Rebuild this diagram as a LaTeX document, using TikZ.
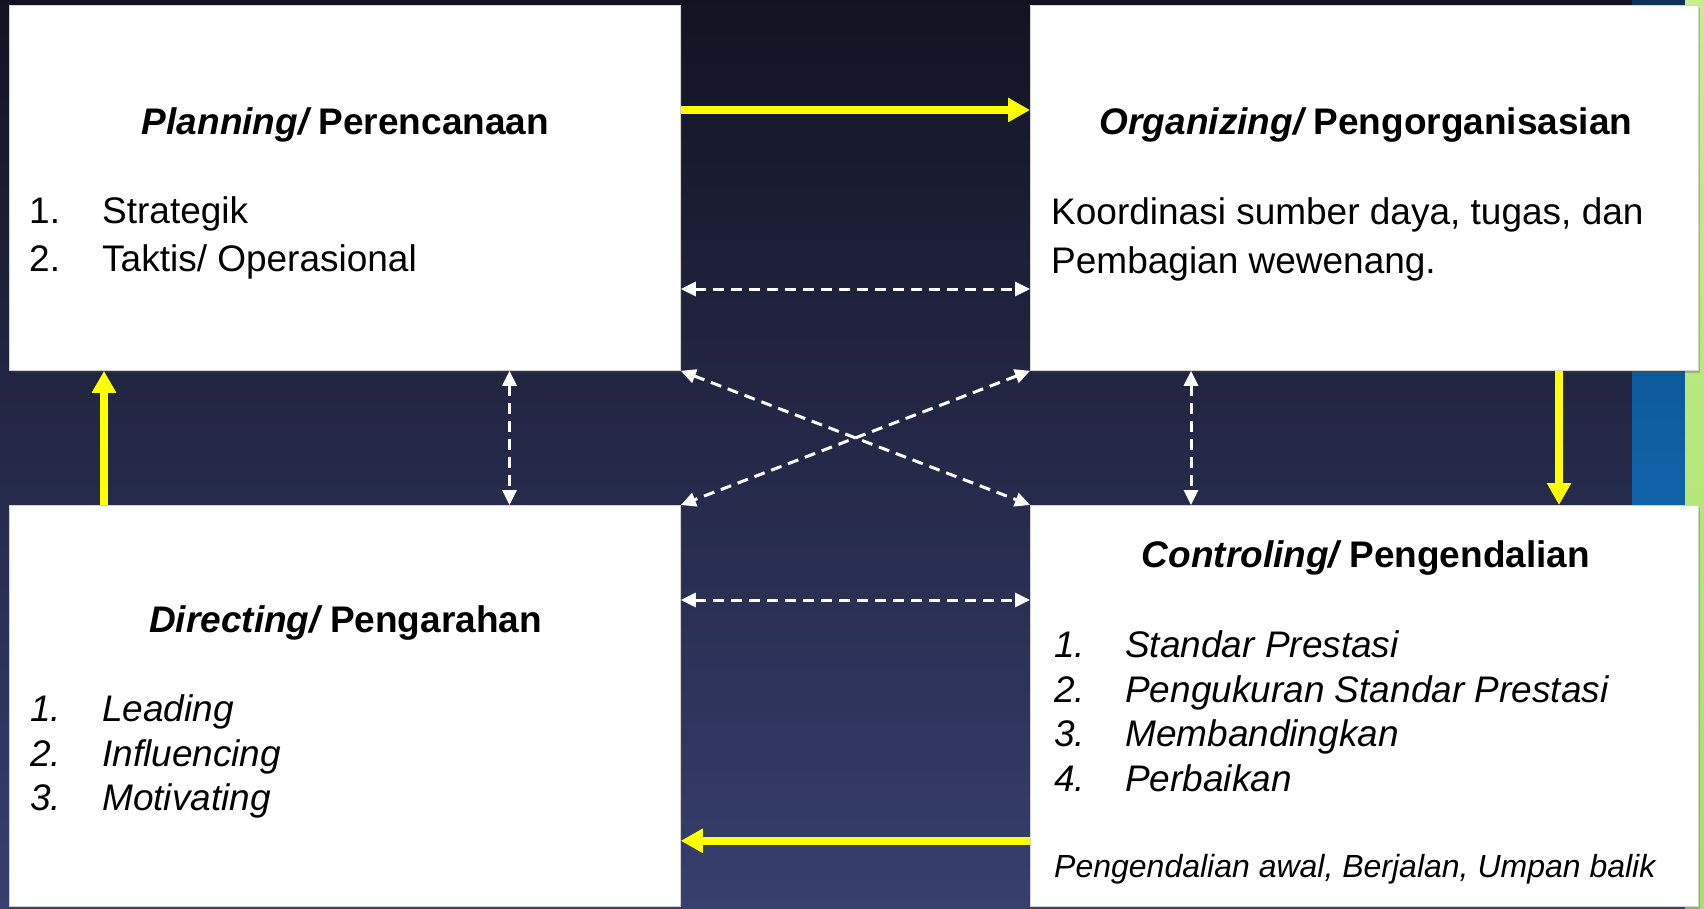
\documentclass[tikz,border=0pt]{standalone}
\usepackage{fontspec}
\setmainfont{Liberation Sans}
\usetikzlibrary{arrows.meta,shadows}
\definecolor{bgtop}{HTML}{121322}
\definecolor{bgmid}{HTML}{272D52}
\definecolor{bgbot}{HTML}{363F6E}
\definecolor{stripbluetop}{HTML}{0C3057}
\definecolor{stripbluea}{HTML}{0B5899}
\definecolor{stripblueb}{HTML}{1265AB}
\definecolor{stripgreentop}{HTML}{C6EE8C}
\definecolor{stripgreenbot}{HTML}{A6E068}
\definecolor{yel}{HTML}{FFFF00}
\tikzset{
  panel/.style={draw=gray!35, line width=0.8pt, fill=white, anchor=north west, inner sep=0pt,
    drop shadow={shadow xshift=2pt, shadow yshift=-3pt, fill=gray!60!black, opacity=0.3}},
  titletext/.style={anchor=base, inner sep=0pt, font=\fontsize{37}{44}\selectfont\bfseries},
  bodytext/.style={anchor=base west, inner sep=0pt, font=\fontsize{37}{44}\selectfont},
  itemtext/.style={anchor=base west, inner sep=0pt, font=\fontsize{37}{44}\selectfont\itshape},
  smalltext/.style={anchor=base west, inner sep=0pt, font=\fontsize{32}{38}\selectfont\itshape},
  yarrow/.style={draw=yel, line width=7.5pt, -{Triangle[length=22pt,width=23pt]}},
  warrow/.style={draw=white, line width=3pt, dash pattern=on 11pt off 7pt,
    {Triangle[length=15pt,width=14pt]}-{Triangle[length=15pt,width=14pt]}}
}
\begin{document}
\begin{tikzpicture}[x=1pt,y=-1pt]
\useasboundingbox (0,0) rectangle (1704,909);
% background
\fill[top color=bgtop, middle color=bgmid, bottom color=bgbot] (0,0) rectangle (1704,909);
\fill[stripbluetop] (1632,0) rectangle (1685,40);
\fill[top color=stripbluea, bottom color=stripblueb] (1632,340) rectangle (1685,530);
\fill[top color=stripgreentop, bottom color=stripgreenbot] (1685,0) rectangle (1704,909);
% panels
\node[panel, minimum width=671pt, minimum height=365pt] (tl) at (9,5) {};
\node[panel, minimum width=668pt, minimum height=365pt] (tr) at (1030,5) {};
\node[panel, minimum width=671pt, minimum height=401pt] (bl) at (9,505) {};
\node[panel, minimum width=668pt, minimum height=401pt] (br) at (1030,505) {};
% texts: planning
\node[titletext] (tltitle) at (345.5,135) {\itshape Planning/\upshape\ Perencanaan};
\node[bodytext] (tln1) at (29,224) {1.};
\node[bodytext] (tlt1) at (102,224) {Strategik};
\node[bodytext] (tln2) at (29,272) {2.};
\node[bodytext] (tlt2) at (102,272) {Taktis/ Operasional};
% organizing
\node[titletext] (trtitle) at (1366,135) {\itshape Organizing/\upshape\ Pengorganisasian};
\node[bodytext] (trt1) at (1051,225) {Koordinasi sumber daya, tugas, dan};
\node[bodytext] (trt2) at (1051,273) {Pembagian wewenang.};
% directing
\node[titletext] (bltitle) at (345.5,632) {\itshape Directing/\upshape\ Pengarahan};
\node[itemtext] (bln1) at (30,721) {1.};
\node[itemtext] (blt1) at (102,721) {Leading};
\node[itemtext] (bln2) at (30,766) {2.};
\node[itemtext] (blt2) at (102,766) {Influencing};
\node[itemtext] (bln3) at (30,810) {3.};
\node[itemtext] (blt3) at (102,810) {Motivating};
% controling
\node[titletext] (brtitle) at (1366,567) {\itshape Controling/\upshape\ Pengendalian};
\node[itemtext] (brn1) at (1054,657) {1.};
\node[itemtext] (brt1) at (1125,657) {Standar Prestasi};
\node[itemtext] (brn2) at (1054,702) {2.};
\node[itemtext] (brt2) at (1125,702) {Pengukuran Standar Prestasi};
\node[itemtext] (brn3) at (1054,746) {3.};
\node[itemtext] (brt3) at (1125,746) {Membandingkan};
\node[itemtext] (brn4) at (1054,791) {4.};
\node[itemtext] (brt4) at (1125,791) {Perbaikan};
\node[smalltext] (brfoot) at (1054,877) {Pengendalian awal, Berjalan, Umpan balik};
% yellow cycle arrows
\draw[yarrow] ([yshift=-105pt]tl.north east) -- ([yshift=-105pt]tr.north west);
\draw[yarrow] ([xshift=529pt]tr.south west) -- ([xshift=529pt]br.north west);
\draw[yarrow] ([yshift=66pt]br.south west) -- ([yshift=66pt]bl.south east);
\draw[yarrow] ([xshift=95pt]bl.north west) -- ([xshift=95pt]tl.south west);
% white dashed double arrows
\draw[warrow] ([yshift=-284pt]tl.north east) -- ([yshift=-284pt]tr.north west);
\draw[warrow] ([yshift=-95pt]bl.north east) -- ([yshift=-95pt]br.north west);
\draw[warrow] ([xshift=500.5pt]tl.south west) -- ([xshift=500.5pt]bl.north west);
\draw[warrow] ([xshift=161pt]tr.south west) -- ([xshift=161pt]br.north west);
\draw[warrow] (tl.south east) -- (br.north west);
\draw[warrow] (tr.south west) -- (bl.north east);
\end{tikzpicture}
\end{document}
